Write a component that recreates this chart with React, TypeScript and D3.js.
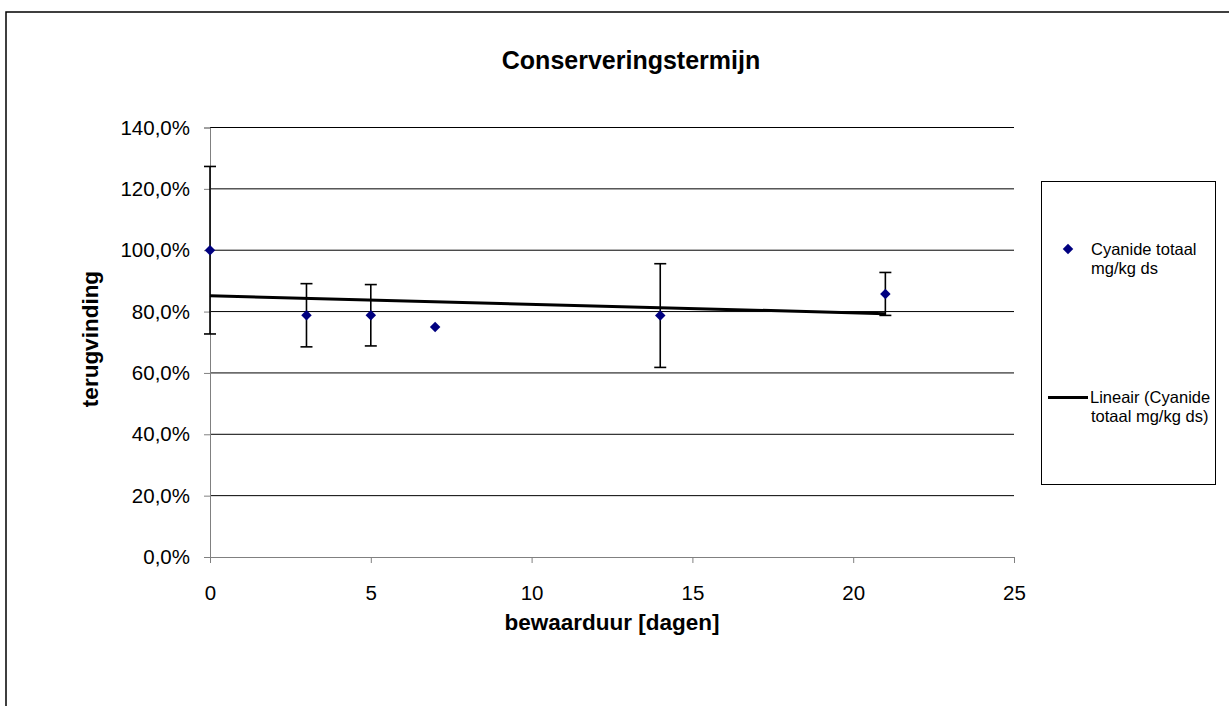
import React, { useEffect, useRef } from "react";
import * as d3 from "d3";

const days = [0, 3, 5, 7, 14, 21];
const recovery = [1.0, 0.788, 0.788, 0.75, 0.787, 0.8575];
const errors = [0.273, 0.103, 0.1, 0, 0.169, 0.07];
const xTicks = [0, 5, 10, 15, 20, 25];
const yTicks = [0, 0.2, 0.4, 0.6, 0.8, 1.0, 1.2, 1.4];

const FONT = "Arial, 'Liberation Sans', sans-serif";

const App = () => {
  const ref = useRef<SVGSVGElement>(null);

  useEffect(() => {
    const svg = d3.select(ref.current);
    svg.selectAll("*").remove();

    const x = d3.scaleLinear().domain([0, 25]).range([210, 1014]);
    const y = d3.scaleLinear().domain([0, 1.4]).range([557, 127.5]);
    const nl = d3.formatLocale({ decimal: ",", thousands: ".", grouping: [3], currency: ["€", ""] });
    const pct = nl.format(".1%");

    // outer chart border (runs off the picture right and bottom)
    svg
      .append("rect")
      .attr("x", 6)
      .attr("y", 12)
      .attr("width", 1400)
      .attr("height", 900)
      .attr("fill", "none")
      .attr("stroke", "#000")
      .attr("stroke-width", 1.5);

    // gridlines
    svg
      .append("g")
      .selectAll("line")
      .data(yTicks.filter((d) => d > 0))
      .enter()
      .append("line")
      .attr("x1", x(0))
      .attr("x2", x(25))
      .attr("y1", (d) => y(d))
      .attr("y2", (d) => y(d))
      .attr("stroke", "#000")
      .attr("stroke-width", 1);

    const yAxis = svg
      .append("g")
      .attr("transform", `translate(${x(0)},0)`)
      .call(d3.axisLeft(y).tickValues(yTicks).tickSize(6).tickPadding(14).tickFormat((d) => pct(d as number)));
    yAxis.select(".domain").attr("stroke", "#808080");
    yAxis.selectAll(".tick line").attr("stroke", "#808080");
    yAxis.selectAll("text").style("font-family", FONT).style("font-size", "20.5px").attr("fill", "#000");

    const xAxis = svg
      .append("g")
      .attr("transform", `translate(0,${y(0)})`)
      .call(d3.axisBottom(x).tickValues(xTicks).tickSize(6).tickSizeOuter(0).tickPadding(22));
    xAxis.select(".domain").attr("stroke", "#808080");
    xAxis.selectAll(".tick line").attr("stroke", "#808080");
    xAxis.selectAll("text").style("font-family", FONT).style("font-size", "20.5px").attr("fill", "#000");

    // error bars
    const eb = svg
      .append("g")
      .selectAll("g")
      .data(days.map((d, i) => ({ d, v: recovery[i], e: errors[i] })).filter((p) => p.e > 0))
      .enter()
      .append("g")
      .attr("stroke", "#000")
      .attr("stroke-width", 1.6);
    eb.append("line")
      .attr("x1", (p) => x(p.d))
      .attr("x2", (p) => x(p.d))
      .attr("y1", (p) => y(p.v - p.e))
      .attr("y2", (p) => y(p.v + p.e));
    [1, -1].forEach((s) => {
      eb.append("line")
        .attr("x1", (p) => x(p.d) - 6)
        .attr("x2", (p) => x(p.d) + 6)
        .attr("y1", (p) => y(p.v + s * p.e))
        .attr("y2", (p) => y(p.v + s * p.e));
    });

    // linear trendline
    const mx = d3.mean(days)!;
    const my = d3.mean(recovery)!;
    const slope =
      d3.sum(days, (d, i) => (d - mx) * (recovery[i] - my)) / d3.sum(days, (d) => (d - mx) * (d - mx));
    const icpt = my - slope * mx;
    const x0 = d3.min(days)!;
    const x1 = d3.max(days)!;
    svg
      .append("line")
      .attr("x1", x(x0))
      .attr("x2", x(x1))
      .attr("y1", y(icpt + slope * x0))
      .attr("y2", y(icpt + slope * x1))
      .attr("stroke", "#000")
      .attr("stroke-width", 3);

    // markers
    const diamond = d3.symbol().type(d3.symbolDiamond2).size(70);
    svg
      .append("g")
      .selectAll("path")
      .data(days)
      .enter()
      .append("path")
      .attr("d", diamond)
      .attr("transform", (d, i) => `translate(${x(d)},${y(recovery[i])})`)
      .attr("fill", "#000080");

    // titles
    svg
      .append("text")
      .attr("x", 631)
      .attr("y", 69)
      .attr("text-anchor", "middle")
      .style("font-family", FONT)
      .style("font-size", "25px")
      .style("font-weight", "bold")
      .text("Conserveringstermijn");
    svg
      .append("text")
      .attr("x", 612)
      .attr("y", 630)
      .attr("text-anchor", "middle")
      .style("font-family", FONT)
      .style("font-size", "22.5px")
      .style("font-weight", "bold")
      .text("bewaarduur [dagen]");
    svg
      .append("text")
      .attr("transform", "translate(98,339) rotate(-90)")
      .attr("text-anchor", "middle")
      .style("font-family", FONT)
      .style("font-size", "22.5px")
      .style("font-weight", "bold")
      .text("terugvinding");

    // legend
    const lg = svg.append("g").style("font-family", FONT).style("font-size", "16.5px");
    lg.append("rect")
      .attr("x", 1041.5)
      .attr("y", 181.5)
      .attr("width", 174)
      .attr("height", 303)
      .attr("fill", "#fff")
      .attr("stroke", "#000")
      .attr("stroke-width", 1);
    lg.append("path").attr("d", diamond).attr("transform", "translate(1068,249)").attr("fill", "#000080");
    lg.append("text").attr("x", 1091).attr("y", 255).text("Cyanide totaal");
    lg.append("text").attr("x", 1091).attr("y", 274).text("mg/kg ds");
    lg.append("line")
      .attr("x1", 1048)
      .attr("x2", 1088)
      .attr("y1", 397.5)
      .attr("y2", 397.5)
      .attr("stroke", "#000")
      .attr("stroke-width", 3);
    lg.append("text").attr("x", 1090).attr("y", 403).text("Lineair (Cyanide");
    lg.append("text").attr("x", 1091).attr("y", 422).text("totaal mg/kg ds)");
  }, []);

  return (
    <div style={{ position: "absolute", left: 0, top: 0 }}>
      <svg ref={ref} width={1229} height={706} style={{ display: "block", background: "#fff" }}></svg>
    </div>
  );
};

export default App;
